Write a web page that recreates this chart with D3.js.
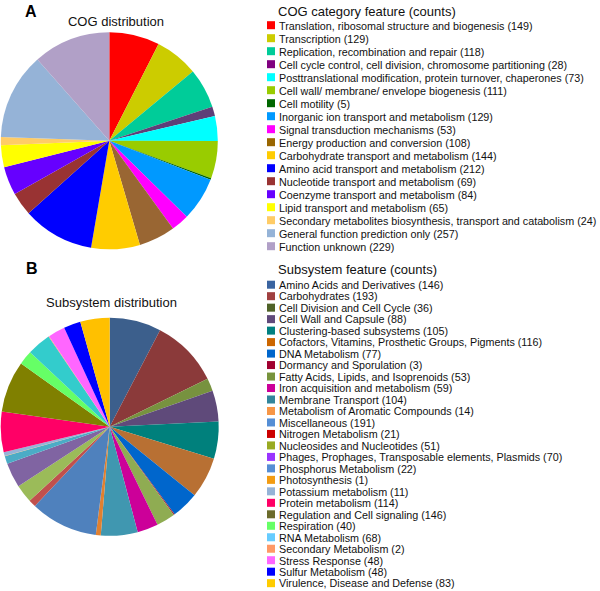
<!DOCTYPE html>
<html>
<head>
<meta charset="utf-8">
<script src="https://cdn.jsdelivr.net/npm/d3@7"></script>
<style>
html,body{margin:0;padding:0;background:#fff;}
svg{display:block;font-family:"Liberation Sans",Arial,Helvetica,sans-serif;}
</style>
</head>
<body>
<svg id="chart" width="600" height="591"></svg>
<script>
// ---- COG data ----
const cogCategories = [
  "Translation, ribosomal structure and biogenesis",
  "Transcription",
  "Replication, recombination and repair",
  "Cell cycle control, cell division, chromosome partitioning",
  "Posttranslational modification, protein turnover, chaperones",
  "Cell wall/ membrane/ envelope biogenesis",
  "Cell motility",
  "Inorganic ion transport and metabolism",
  "Signal transduction mechanisms",
  "Energy production and conversion",
  "Carbohydrate transport and metabolism",
  "Amino acid transport and metabolism",
  "Nucleotide transport and metabolism",
  "Coenzyme transport and metabolism",
  "Lipid transport and metabolism",
  "Secondary metabolites biosynthesis, transport and catabolism",
  "General function prediction only",
  "Function unknown"
];
const cogCounts = [149,129,118,28,73,111,5,129,53,108,144,212,69,84,65,24,257,229];
const cogSliceColors = ["#ff0000","#cccc00","#00cc99","#5e3f78","#00ffff","#99cc00","#006600","#0099ff","#ff00ff","#996633","#ffcc00","#0000ff","#993333","#6600ff","#ffff00","#ffcc66","#95b3d7","#b1a0c7"];
const cogSwatchColors = ["#ff0000","#cccc00","#00cc99","#800080","#00ffff","#99cc00","#006600","#0099ff","#ff00ff","#996600","#ffcc00","#0000ff","#993333","#6600ff","#ffff00","#ffcc66","#95b3d7","#b1a0c7"];

// ---- Subsystem data ----
const subCategories = [
  "Amino Acids and Derivatives",
  "Carbohydrates",
  "Cell Division and Cell Cycle",
  "Cell Wall and Capsule",
  "Clustering-based subsystems",
  "Cofactors, Vitamins, Prosthetic Groups, Pigments",
  "DNA Metabolism",
  "Dormancy and Sporulation",
  "Fatty Acids, Lipids, and Isoprenoids",
  "Iron acquisition and metabolism",
  "Membrane Transport",
  "Metabolism of Aromatic Compounds",
  "Miscellaneous",
  "Nitrogen Metabolism",
  "Nucleosides and Nucleotides",
  "Phages, Prophages, Transposable elements, Plasmids",
  "Phosphorus Metabolism",
  "Photosynthesis",
  "Potassium metabolism",
  "Protein metabolism",
  "Regulation and Cell signaling",
  "Respiration",
  "RNA Metabolism",
  "Secondary Metabolism",
  "Stress Response",
  "Sulfur Metabolism",
  "Virulence, Disease and Defense"
];
const subCounts = [146,193,36,88,105,116,77,3,53,59,104,14,191,21,51,70,22,1,11,114,146,40,68,2,48,48,83];
const subSliceColors = ["#3c5f8c","#8b3a3a","#77923f","#5f4a7a","#00807c","#b87033","#0066cc","#a0203a","#8fac52","#cc0099","#4097b0","#e08030","#4f81bd","#c0504d","#9bbb59","#8064a2","#4bacc6","#f39c12","#95b3d7","#ff0066","#808000","#66ff66","#33cccc","#ff9966","#ff66ff","#0000ff","#ffc000"];
const subSwatchColors = ["#3a64a0","#a04040","#4f6228","#604a7b","#008080","#cc6600","#0066cc","#a00030","#77933c","#cc0099","#31859c","#f79646","#558ed5","#cc0000","#99aa22","#9933ff","#558ed5","#f39c12","#95b3d7","#ff0066","#6b6b2b","#66ff66","#66ccff","#ff9966","#ff66ff","#0000ff","#ffcc00"];

const svg = d3.select("#chart");

function drawPie(cx, cy, r, counts, colors) {
  const pie = d3.pie().sort(null).value(d => d);
  const arc = d3.arc().innerRadius(0).outerRadius(r);
  const g = svg.append("g").attr("transform", `translate(${cx},${cy})`);
  g.selectAll("path").data(pie(counts)).join("path")
    .attr("d", arc)
    .attr("fill", (d, i) => colors[i]);
}

function drawLegend(x, y0, step, cats, counts, colors) {
  const g = svg.append("g");
  const rows = g.selectAll("g").data(cats).join("g")
    .attr("transform", (d, i) => `translate(${x},${y0 + i * step})`);
  rows.append("rect").attr("x", 0).attr("y", -8.3).attr("width", 8).attr("height", 8)
    .attr("fill", (d, i) => colors[i]);
  rows.append("text").attr("x", 12).attr("y", 0)
    .attr("font-size", 10.75).attr("fill", "#111")
    .text((d, i) => `${d} (${counts[i]})`);
}

// Panel labels
svg.append("text").attr("x", 25).attr("y", 17).attr("font-size", 16).attr("font-weight", "bold").text("A");
svg.append("text").attr("x", 26).attr("y", 274).attr("font-size", 16).attr("font-weight", "bold").text("B");

// Titles
svg.append("text").attr("x", 116).attr("y", 25.5).attr("text-anchor", "middle").attr("font-size", 13).attr("fill", "#111").text("COG distribution");
svg.append("text").attr("x", 111.5).attr("y", 306.5).attr("text-anchor", "middle").attr("font-size", 13).attr("fill", "#111").text("Subsystem distribution");
svg.append("text").attr("x", 278).attr("y", 15.5).attr("font-size", 13).attr("fill", "#111").text("COG category feature (counts)");
svg.append("text").attr("x", 278).attr("y", 274).attr("font-size", 13).attr("fill", "#111").text("Subsystem feature (counts)");

drawPie(109.3, 140.8, 108.5, cogCounts, cogSliceColors);
drawPie(109.7, 426.8, 109, subCounts, subSliceColors);

drawLegend(267, 29.5, 13, cogCategories, cogCounts, cogSwatchColors);
drawLegend(267, 289, 11.48, subCategories, subCounts, subSwatchColors);
</script>
</body>
</html>
